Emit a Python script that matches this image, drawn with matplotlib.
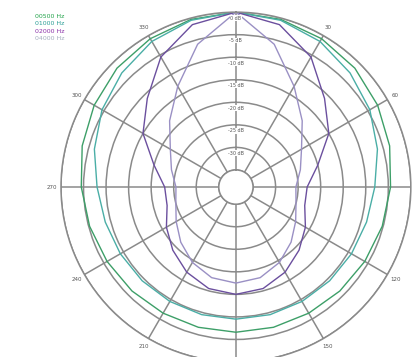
import matplotlib
matplotlib.use('Agg')
import matplotlib.pyplot as plt
import numpy as np

# polar response, dB at 0..180 deg every 15 deg (mirrored for the other side)
half_angles = [0, 15, 30, 45, 60, 75, 90, 105, 120, 135, 150, 165, 180]
resp_500 = [0, -0.3, -0.8, -1.5, -2.5, -3.5, -4.5, -5.2, -5.8, -6.2, -6.5, -6.6, -6.6]
resp_1000 = [0, -0.5, -1.5, -3.0, -4.5, -6.3, -8.0, -8.8, -9.2, -9.4, -9.5, -9.5, -9.5]
resp_2000 = [0, -1.5, -5.5, -11, -15, -20, -23, -23, -21, -19, -17, -15.5, -15]
resp_4000 = [0, -6, -13, -18, -22, -24, -25.5, -25, -23.5, -21.5, -19.5, -18, -17.5]

series = ['00500 Hz', '01000 Hz', '02000 Hz', '04000 Hz']
line_colors = ['#3d9f68', '#4aaea6', '#6b4f9e', '#9a90c4']
text_colors = ['#22a34a', '#2a9e96', '#8a2fa8', '#a4aebf']

ring_levels = [0, -5, -10, -15, -20, -25, -30]
angle_ticks = list(range(0, 360, 30))
hidden_labels = [0, 90, 180]


def full_circle(vals):
    a = half_angles + [360 - x for x in half_angles[-2::-1]]
    v = vals + vals[-2::-1]
    return np.deg2rad(a), np.array(v)


fig = plt.figure(figsize=(4.16, 3.57), dpi=100)
ax = fig.add_axes([0.1466, -0.014, 0.841, 0.980], projection='polar')
ax.set_theta_zero_location('N')
ax.set_theta_direction(-1)
ax.set_rorigin(-38.8)
ax.set_ylim(-35, 0)

grid_col = '#8a8a8a'
ax.set_rticks([-35, -30, -25, -20, -15, -10, -5, 0])
ax.set_yticklabels([])
labels = ['' if a in hidden_labels else str(a) for a in angle_ticks]
ax.set_thetagrids(angle_ticks, labels, fontsize=4, color='#555555')
ax.tick_params(axis='x', pad=-4)
ax.grid(True, color=grid_col, lw=1.1)
for sp in ax.spines.values():
    sp.set_color(grid_col)
    sp.set_linewidth(1.1)

for name, vals, col in zip(series, [resp_500, resp_1000, resp_2000, resp_4000], line_colors):
    th, r = full_circle(vals)
    ax.plot(th, r, color=col, lw=1.0)

for lvl in ring_levels:
    ax.text(0, lvl - 1.3, f'{lvl} dB', ha='center', va='center', fontsize=3.5,
            color='#555555', bbox=dict(fc='white', ec='none', pad=0.2))

for i, (name, col) in enumerate(zip(series, text_colors)):
    fig.text(0.084, 0.955 - i * 0.021, name, color=col, fontsize=4.5, va='center')

fig.savefig('out.png', dpi=100)
